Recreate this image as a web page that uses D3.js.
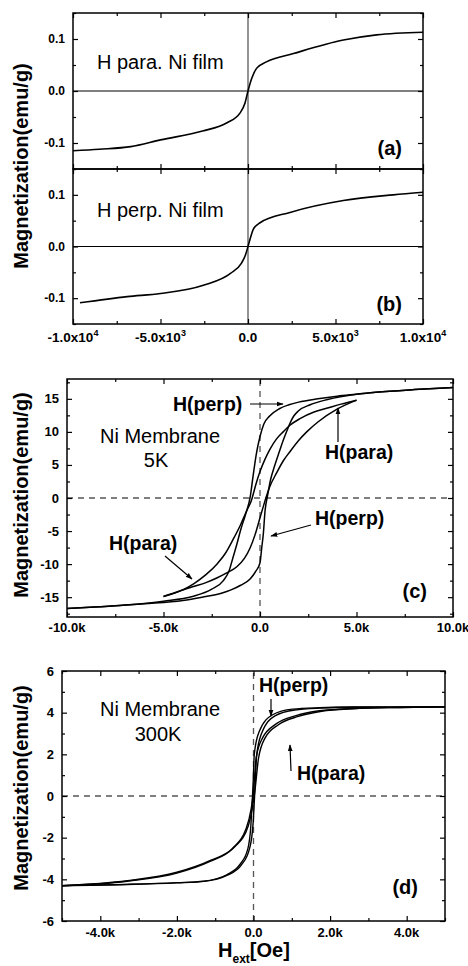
<!DOCTYPE html>
<html>
<head>
<meta charset="utf-8">
<script src="https://cdn.jsdelivr.net/npm/d3@7"></script>
<style>
  body { margin: 0; background: #fff; }
  svg { display: block; font-family: "Liberation Sans", Arial, sans-serif; }
</style>
</head>
<body>
<svg id="chart" width="468" height="966"></svg>
<script>
'use strict'

// ---- (a) Ni film, H parallel
const filmParaH = [-10000, -8500, -6700, -5000, -2600, -1200, -450, -170, 0, 210, 500, 1050, 2600, 5450, 7350, 10000]
const filmParaM = [-0.115, -0.112, -0.107, -0.094, -0.077, -0.061, -0.042, -0.023, 0, 0.024, 0.044, 0.056, 0.072, 0.098, 0.108, 0.113]

// ---- (b) Ni film, H perpendicular
const filmPerpH = [-9600, -6900, -5000, -2550, -1000, -370, -150, 0, 150, 300, 690, 2400, 5450, 8300, 10000]
const filmPerpM = [-0.109, -0.097, -0.091, -0.075, -0.052, -0.032, -0.017, 0, 0.018, 0.033, 0.046, 0.066, 0.089, 0.100, 0.105]

// ---- (c) Ni membrane 5K, H perp loop (two branches)
const perp5DownH = [-10000, -7000, -5000, -3500, -2500, -1900, -1600, -1400, -1200, -1000, -750, -500, -350, -200, 0, 200, 500, 1000, 1500, 2000, 3000, 4000, 5000, 6000, 8000, 10000]
const perp5DownM = [-16.7, -16.2, -15.6, -14.9, -13.8, -12.5, -11.0, -9.0, -7.0, -4.8, -2.5, 0.3, 3.5, 6.5, 9.3, 11.2, 12.4, 13.5, 14.1, 14.5, 15.0, 15.4, 15.7, 16.0, 16.4, 16.7]
const perp5UpH = [-10000, -8000, -6000, -4000, -3000, -2000, -1500, -1000, -500, -200, 0, 90, 170, 260, 400, 550, 750, 1000, 1200, 1400, 1600, 1750, 2000, 2600, 3500, 5000, 6000, 8000, 10000]
const perp5UpM = [-16.7, -16.4, -16.0, -15.5, -15.0, -14.4, -13.9, -13.2, -12.2, -11.0, -9.8, -7.5, -5.5, -2.0, 0.5, 2.8, 4.8, 7.0, 8.7, 10.2, 11.6, 12.4, 13.2, 14.1, 14.9, 15.7, 16.0, 16.4, 16.7]

// ---- (c) Ni membrane 5K, H para loop (+-5 kOe)
const para5DownH = [-5000, -4000, -3400, -2800, -2200, -1800, -1400, -1000, -700, -450, -200, 0, 250, 520, 850, 1200, 1550, 2070, 2800, 3500, 4200, 5000]
const para5DownM = [-14.9, -13.9, -12.9, -11.6, -9.9, -8.4, -6.3, -4.0, -2.0, -0.4, 2.2, 4.0, 5.8, 7.4, 8.9, 10.0, 11.0, 12.0, 13.0, 13.6, 14.2, 14.8]
const para5UpH = [-5000, -4200, -3450, -2800, -2240, -1700, -1200, -800, -520, -250, 0, 200, 350, 520, 860, 1200, 1550, 2000, 2420, 3000, 3970, 5000]
const para5UpM = [-14.9, -14.1, -13.4, -12.8, -12.1, -11.3, -10.4, -9.1, -7.6, -5.5, -3.0, -1.0, 0.4, 1.8, 3.8, 5.6, 7.0, 8.7, 10.0, 11.5, 13.4, 14.8]

// ---- (d) Ni membrane 300K
const perp300DownH = [-5000, -3300, -2000, -1300, -700, -360, -150, -70, -40, -10, 20, 150, 500, 1020, 1720, 2600, 5000]
const perp300DownM = [-4.30, -4.24, -4.16, -4.09, -3.78, -3.30, -2.55, -1.45, -0.5, 0.6, 2.0, 3.1, 3.9, 4.17, 4.24, 4.27, 4.28]
const perp300UpH = [-5000, -3300, -2000, -1300, -680, -320, -100, -10, 20, 50, 80, 210, 560, 1080, 1780, 2600, 5000]
const perp300UpM = [-4.30, -4.25, -4.17, -4.10, -3.80, -3.32, -2.50, -1.30, -0.3, 0.8, 1.9, 3.0, 3.85, 4.13, 4.22, 4.26, 4.28]
const para300DownH = [-5000, -3300, -2000, -1150, -550, -200, -60, 0, 70, 240, 590, 1110, 1720, 2600, 3800, 5000]
const para300DownM = [-4.31, -4.09, -3.70, -3.15, -2.52, -1.60, -0.60, 0.2, 1.84, 2.8, 3.46, 3.86, 4.09, 4.2, 4.25, 4.28]
const para300UpH = [-5000, -3300, -2000, -1110, -490, -140, -20, 40, 130, 300, 650, 1170, 1780, 2600, 3800, 5000]
const para300UpM = [-4.31, -4.07, -3.66, -3.08, -2.44, -1.45, -0.45, 0.3, 1.8, 2.78, 3.42, 3.82, 4.07, 4.19, 4.25, 4.28]

// ---- ticks and tick labels
const abMajorX = [-10000, -5000, 0, 5000, 10000]
const abMinorX = [-7500, -2500, 2500, 7500]
const abXBase = ['-1.0x10', '-5.0x10', '0.0', '5.0x10', '1.0x10']
const abXExp = ['4', '3', '', '3', '4']
const abMajorY = [-0.1, 0, 0.1]
const abMinorY = [-0.15, -0.05, 0.05, 0.15]
const abYLabels = ['-0.1', '0.0', '0.1']

const cMajorX = [-10000, -5000, 0, 5000, 10000]
const cMinorX = [-7500, -2500, 2500, 7500]
const cXLabels = ['-10.0k', '-5.0k', '0.0', '5.0k', '10.0k']
const cMajorY = [-15, -10, -5, 0, 5, 10, 15]
const cMinorY = [-17.5, -12.5, -7.5, -2.5, 2.5, 7.5, 12.5, 17.5]
const cYLabels = ['-15', '-10', '-5', '0', '5', '10', '15']

const dMajorX = [-4000, -2000, 0, 2000, 4000]
const dMinorX = [-5000, -3000, -1000, 1000, 3000, 5000]
const dXLabels = ['-4.0k', '-2.0k', '0.0', '2.0k', '4.0k']
const dMajorY = [-6, -4, -2, 0, 2, 4, 6]
const dMinorY = [-5, -3, -1, 1, 3, 5]
const dYLabels = ['-6', '-4', '-2', '0', '2', '4', '6']

const svg = d3.select('#chart')

svg.append('defs').append('marker')
    .attr('id', 'arrow')
    .attr('viewBox', '0 0 10 10')
    .attr('refX', 9).attr('refY', 5)
    .attr('markerWidth', 7).attr('markerHeight', 7)
    .attr('markerUnits', 'userSpaceOnUse')
    .attr('orient', 'auto')
  .append('path')
    .attr('d', 'M0,1.5 L10,5 L0,8.5 Z')
    .attr('fill', '#000')

const xAB = d3.scaleLinear().domain([-10000, 10000]).range([73, 423])
const yA = d3.scaleLinear().domain([-0.15, 0.15]).range([169, 13])
const yB = d3.scaleLinear().domain([-0.15, 0.15]).range([324, 169])
const xC = d3.scaleLinear().domain([-10000, 10000]).range([67, 453])
const yC = d3.scaleLinear().domain([-18, 18]).range([617, 379])
const xD = d3.scaleLinear().domain([-5000, 5000]).range([62, 445])
const yD = d3.scaleLinear().domain([-6, 6]).range([921, 671])

// inward ticks on all four sides
function ticks(x, y, xMaj, xMin, yMaj, yMin) {
  const g = svg.append('g')
  const [x0, x1] = x.range()
  const [y0, y1] = y.range()
  const sides = [
    [d3.axisBottom, x, `translate(0,${y0})`, xMaj, xMin],
    [d3.axisTop, x, `translate(0,${y1})`, xMaj, xMin],
    [d3.axisLeft, y, `translate(${x0},0)`, yMaj, yMin],
    [d3.axisRight, y, `translate(${x1},0)`, yMaj, yMin]
  ]
  sides.forEach(([ax, sc, tr, maj, min]) => {
    g.append('g').attr('transform', tr)
      .call(ax(sc).tickValues(maj).tickSize(-5).tickFormat(''))
    g.append('g').attr('transform', tr)
      .call(ax(sc).tickValues(min).tickSize(-3).tickFormat(''))
  })
  g.selectAll('.domain').remove()
  g.selectAll('line').attr('stroke', '#000').attr('stroke-width', 1.2)
  return g
}

function frame(x, y) {
  const [x0, x1] = x.range()
  const [y0, y1] = y.range()
  svg.append('rect')
    .attr('x', x0).attr('y', y1)
    .attr('width', x1 - x0).attr('height', y0 - y1)
    .attr('fill', 'none').attr('stroke', '#000').attr('stroke-width', 1.5)
}

function yLabels(x, y, vals, labels, size) {
  svg.append('g').selectAll('text')
    .data(vals)
    .join('text')
      .attr('x', x.range()[0] - 8)
      .attr('y', d => y(d))
      .attr('dy', '0.35em')
      .attr('text-anchor', 'end')
      .attr('font-size', size)
      .attr('font-weight', 'bold')
      .text((d, i) => labels[i])
}

function xLabels(x, yPos, vals, labels, size) {
  svg.append('g').selectAll('text')
    .data(vals)
    .join('text')
      .attr('x', d => x(d))
      .attr('y', yPos)
      .attr('text-anchor', 'middle')
      .attr('font-size', size)
      .attr('font-weight', 'bold')
      .text((d, i) => labels[i])
}

function curve(x, y, hs, ms, w) {
  const pts = hs.map((h, i) => [h, ms[i]])
  svg.append('path')
    .datum(pts)
    .attr('fill', 'none')
    .attr('stroke', '#000')
    .attr('stroke-width', w || 1.5)
    .attr('d', d3.line().x(d => x(d[0])).y(d => y(d[1])).curve(d3.curveMonotoneX))
}

function note(x, y, str, size, bold, anchor) {
  return svg.append('text')
    .attr('x', x).attr('y', y)
    .attr('font-size', size)
    .attr('font-weight', bold ? 'bold' : 'normal')
    .attr('text-anchor', anchor || 'start')
    .text(str)
}

function arrow(x1, y1, x2, y2) {
  svg.append('line')
    .attr('x1', x1).attr('y1', y1).attr('x2', x2).attr('y2', y2)
    .attr('stroke', '#000').attr('stroke-width', 1.2)
    .attr('marker-end', 'url(#arrow)')
}

function yTitle(cx, cy) {
  svg.append('text')
    .attr('transform', `translate(${cx},${cy}) rotate(-90)`)
    .attr('text-anchor', 'middle')
    .attr('font-size', 20)
    .attr('font-weight', 'bold')
    .text('Magnetization(emu/g)')
}

// ================= panels (a) and (b)
;[yA, yB].forEach(y => {
  svg.append('line')
    .attr('x1', xAB.range()[0]).attr('x2', xAB.range()[1])
    .attr('y1', y(0)).attr('y2', y(0))
    .attr('stroke', '#000').attr('stroke-width', 1)
})
svg.append('line')
  .attr('x1', xAB(0)).attr('x2', xAB(0))
  .attr('y1', yA.range()[1]).attr('y2', yB.range()[0])
  .attr('stroke', '#666').attr('stroke-width', 1.4)

curve(xAB, yA, filmParaH, filmParaM, 1.6)
curve(xAB, yB, filmPerpH, filmPerpM, 1.6)

ticks(xAB, yA, abMajorX, abMinorX, abMajorY, abMinorY)
ticks(xAB, yB, abMajorX, abMinorX, abMajorY, abMinorY)
frame(xAB, yA)
frame(xAB, yB)
yLabels(xAB, yA, abMajorY, abYLabels, 12)
yLabels(xAB, yB, abMajorY, abYLabels, 12)

const abx = svg.append('g').selectAll('text')
  .data(abMajorX)
  .join('text')
    .attr('x', d => xAB(d))
    .attr('y', 342)
    .attr('text-anchor', 'middle')
    .attr('font-size', 13.5)
    .attr('font-weight', 'bold')
abx.append('tspan').text((d, i) => abXBase[i])
abx.append('tspan')
    .attr('dy', -6)
    .attr('font-size', 9)
    .text((d, i) => abXExp[i])

note(97, 69, 'H para. Ni film', 20)
note(97, 217, 'H perp. Ni film', 20)
note(402, 155, '(a)', 20, true, 'end')
note(402, 311, '(b)', 20, true, 'end')
yTitle(28, 166)

// ================= panel (c)
const dash = (x, y) => {
  svg.append('line')
    .attr('x1', x.range()[0]).attr('x2', x.range()[1])
    .attr('y1', y(0)).attr('y2', y(0))
    .attr('stroke', '#555').attr('stroke-width', 1.3).attr('stroke-dasharray', '6,5')
  svg.append('line')
    .attr('x1', x(0)).attr('x2', x(0))
    .attr('y1', y.range()[0]).attr('y2', y.range()[1])
    .attr('stroke', '#555').attr('stroke-width', 1.3).attr('stroke-dasharray', '6,5')
}
dash(xC, yC)
curve(xC, yC, perp5DownH, perp5DownM)
curve(xC, yC, perp5UpH, perp5UpM)
curve(xC, yC, para5DownH, para5DownM)
curve(xC, yC, para5UpH, para5UpM)
ticks(xC, yC, cMajorX, cMinorX, cMajorY, cMinorY)
frame(xC, yC)
yLabels(xC, yC, cMajorY, cYLabels, 13)
xLabels(xC, 632, cMajorX, cXLabels, 13)

note(160, 443, 'Ni Membrane', 20, false, 'middle')
note(156, 467, '5K', 20, false, 'middle')
note(173, 411, 'H(perp)', 19.5, true)
arrow(250, 404, 283, 404)
note(325, 459, 'H(para)', 19.5, true)
arrow(338, 442, 338, 408)
note(315, 525, 'H(perp)', 19.5, true)
arrow(311, 525, 271, 536)
note(109, 550, 'H(para)', 19.5, true)
arrow(165, 556, 192, 579)
note(427, 598, '(c)', 20, true, 'end')
yTitle(28, 495)

// ================= panel (d)
dash(xD, yD)
curve(xD, yD, perp300DownH, perp300DownM, 1.4)
curve(xD, yD, perp300UpH, perp300UpM, 1.4)
curve(xD, yD, para300DownH, para300DownM, 1.4)
curve(xD, yD, para300UpH, para300UpM, 1.4)
ticks(xD, yD, dMajorX, dMinorX, dMajorY, dMinorY)
frame(xD, yD)
yLabels(xD, yD, dMajorY, dYLabels, 13)
xLabels(xD, 937, dMajorX, dXLabels, 13)

note(160, 716, 'Ni Membrane', 20, false, 'middle')
note(158, 741, '300K', 20, false, 'middle')
note(259, 692, 'H(perp)', 19.5, true)
arrow(271, 699, 271, 716)
note(297, 780, 'H(para)', 19.5, true)
arrow(291, 771, 290, 745)
note(418, 894, '(d)', 20, true, 'end')
yTitle(28, 788)

const hx = note(218, 957, 'H', 20, true)
hx.append('tspan').attr('dy', 6).attr('font-size', 12).text('ext')
hx.append('tspan').attr('dy', -6).text('[Oe]')
</script>
</body>
</html>
